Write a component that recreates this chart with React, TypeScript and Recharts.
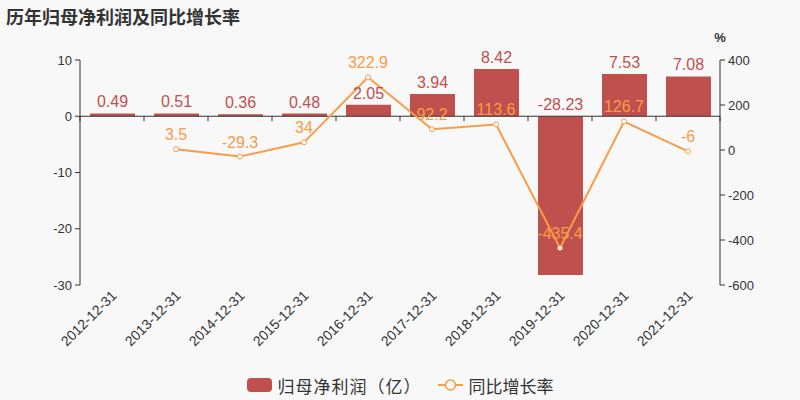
import React from 'react';
import {
    ComposedChart, Bar, Line, XAxis, YAxis, ReferenceLine, Legend, LabelList
} from 'recharts';

const dates = ['2012-12-31', '2013-12-31', '2014-12-31', '2015-12-31', '2016-12-31', '2017-12-31', '2018-12-31', '2019-12-31', '2020-12-31', '2021-12-31'];
const profit = [0.49, 0.51, 0.36, 0.48, 2.05, 3.94, 8.42, -28.23, 7.53, 7.08];
const growth: (number | null)[] = [null, 3.5, -29.3, 34, 322.9, 92.2, 113.6, -435.4, 126.7, -6];
const leftTicks = [-30, -20, -10, 0, 10];
const rightTicks = [-600, -400, -200, 0, 200, 400];

const data = dates.map((d, i) => ({ date: d, profit: profit[i], growth: growth[i] }));

const W = 800;
const H = 400;
const TOP = 60;
const PLOT_H = 225;
const ZERO_Y = TOP + PLOT_H * (10 / 40);
const BAR = '#c0504d';
const LINE = '#f89c48';
const AXIS = '#333';
const FONT = '"Liberation Sans", "Noto Sans CJK SC", sans-serif';

// x labels sit at the bottom, but the little ticks belong on the zero line
const XTick = ({ x, y, payload, index }: any) => {
    const half = 32;
    return (
        <g>
            <line x1={x - half} x2={x - half} y1={ZERO_Y} y2={ZERO_Y + 5} stroke={AXIS} />
            {index === dates.length - 1 && <line x1={x + half} x2={x + half} y1={ZERO_Y} y2={ZERO_Y + 5} stroke={AXIS} />}
            <text x={x + 2} y={y} dy="0.35em" textAnchor="end" transform={`rotate(-45 ${x + 2} ${y})`} fontSize={14} fill="#333" fontFamily={FONT}>
                {payload.value}
            </text>
        </g>
    );
};

const BarLabel = ({ x, y, width, height, value }: any) => {
    const top = Math.min(y, y + height);
    return (
        <text x={x + width / 2} y={top - 6} textAnchor="middle" fontSize={16} fill={BAR} fontFamily={FONT}>{value}</text>
    );
};

const LineLabel = ({ x, y, value }: any) => {
    if (value == null) return null;
    return (
        <text x={x} y={y - 9} textAnchor="middle" fontSize={16} fill={LINE} fontFamily={FONT}>{value}</text>
    );
};

const LegendBox = () => (
    <div style={{ display: 'flex', justifyContent: 'center', alignItems: 'center', height: 30, fontSize: 17, color: '#333', fontFamily: FONT }}>
        <svg width={25} height={14} style={{ marginRight: 6 }}>
            <rect x={0} y={0} width={25} height={14} rx={4} fill={BAR} />
        </svg>
        <span style={{ letterSpacing: 1 }}>归母净利润（亿）</span>
        <svg width={25} height={14} style={{ marginLeft: 16, marginRight: 6 }}>
            <line x1={0} x2={25} y1={7} y2={7} stroke={LINE} strokeWidth={2} />
            <circle cx={12.5} cy={7} r={5} fill="#f8f8f8" stroke={LINE} strokeWidth={1.5} />
        </svg>
        <span>同比增长率</span>
    </div>
);

export default function App() {
    return (
        <div style={{ position: 'absolute', left: 0, top: 0, width: W, height: H, background: '#f8f8f8', fontFamily: FONT }}>
            <div style={{ position: 'absolute', left: 6, top: 3, fontSize: 18, fontWeight: 'bold', color: '#333', zIndex: 2 }}>
                历年归母净利润及同比增长率
            </div>
            <ComposedChart width={W} height={H} data={data} margin={{ top: TOP, right: 0, bottom: 0, left: 0 }}>
                <XAxis dataKey="date" interval={0} height={85} axisLine={false} tickLine={false} tick={<XTick />} />
                <YAxis yAxisId="left" domain={[-30, 10]} ticks={leftTicks} width={80} stroke={AXIS}
                    tick={{ fill: '#333', fontSize: 13, fontFamily: FONT }} tickSize={5} tickMargin={3} />
                <YAxis yAxisId="right" orientation="right" domain={[-600, 400]} ticks={rightTicks} width={80} stroke={AXIS}
                    tick={{ fill: '#333', fontSize: 13, fontFamily: FONT }} tickSize={5} tickMargin={3}
                    label={({ viewBox }: any) => (
                        <text x={viewBox.x} y={viewBox.y - 18} textAnchor="middle" fontSize={13} fontWeight="bold" fill="#333" fontFamily={FONT}>%</text>
                    )} />
                <ReferenceLine yAxisId="left" y={0} stroke={AXIS} />
                <Bar yAxisId="left" dataKey="profit" fill={BAR} barSize={45} isAnimationActive={false}>
                    <LabelList dataKey="profit" content={<BarLabel />} />
                </Bar>
                <Line yAxisId="right" dataKey="growth" stroke={LINE} strokeWidth={2} isAnimationActive={false}
                    dot={{ r: 2.5, fill: '#fff', stroke: LINE, strokeWidth: 1 }} activeDot={false}>
                    <LabelList dataKey="growth" content={<LineLabel />} />
                </Line>
                <Legend verticalAlign="bottom" content={<LegendBox />} wrapperStyle={{ height: 30 }} />
            </ComposedChart>
        </div>
    );
}
